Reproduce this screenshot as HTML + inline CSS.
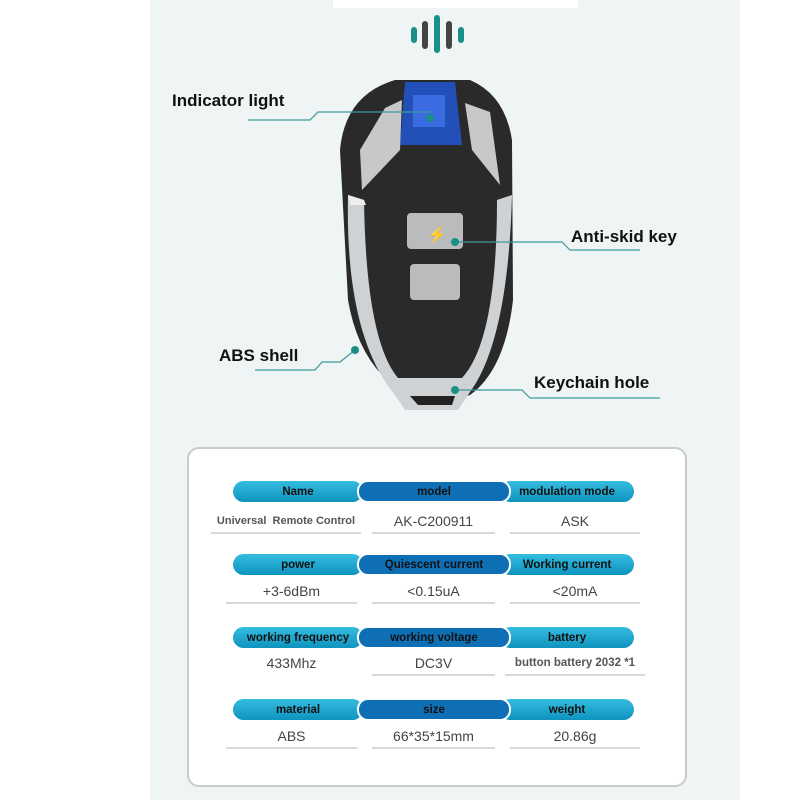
<!DOCTYPE html>
<html><head><style>
body{margin:0;width:800px;height:800px;background:#fff;position:relative;overflow:hidden;font-family:"Liberation Sans",sans-serif}
.panel{position:absolute;left:150px;top:0;width:590px;height:800px;background:#eff4f5}
.topbar{position:absolute;left:333px;top:0;width:245px;height:8px;background:#fff}
.lbl{position:absolute;font-weight:bold;font-size:17px;color:#111}
.box{position:absolute;left:187px;top:447px;width:496px;height:336px;background:#fff;border:2px solid #c9cccd;border-radius:12px}
.pill{position:absolute;height:21px;border-radius:11px;font-weight:bold;font-size:11.5px;color:#111;text-align:center;line-height:22px}
.p1{background:linear-gradient(#35bde0,#0e93be)}
.p2{background:#0f6fb5;border:2px solid #fff;height:19px;line-height:20px}
.val{position:absolute;text-align:center;font-size:14px;color:#444;border-bottom:2px solid #d8d8d8;height:22px;line-height:22px}
</style></head><body>
<div class="panel"></div><div class="topbar"></div>
<svg style="position:absolute;left:0;top:0" width="800" height="440">
<g stroke-linecap="round" stroke-width="6">
<line x1="414" y1="30" x2="414" y2="40" stroke="#1a8f87"/>
<line x1="425" y1="24" x2="425" y2="46" stroke="#444"/>
<line x1="437" y1="18" x2="437" y2="50" stroke="#1a8f87"/>
<line x1="449" y1="24" x2="449" y2="46" stroke="#444"/>
<line x1="461" y1="30" x2="461" y2="40" stroke="#1a8f87"/>
</g>
<path d="M395 80 L470 80 Q505 95 512 140 L513 300 Q505 370 470 395 Q440 406 410 396 Q360 370 348 300 L340 150 Q345 95 395 80Z" fill="#2a2a2a"/>
<path d="M348 195 Q345 335 395 395 L405 410 L458 410 L470 392 Q508 340 512 195 L497 200 Q497 340 462 378 L398 378 Q366 340 364 200Z" fill="#cfd2d4"/>
<path d="M348 195 L364 200 L366 205 L350 205Z" fill="#eee"/>
<path d="M405 82 L455 82 L462 145 L400 145Z" fill="#2350b8"/>
<rect x="413" y="95" width="32" height="32" fill="#3a6be0"/>
<path d="M385 108 L402 100 L400 150 L362 190 L360 150Z" fill="#c8c8c8"/>
<path d="M465 103 L490 112 L500 185 L472 150Z" fill="#c8c8c8"/>
<rect x="407" y="213" width="56" height="36" rx="4" fill="#b9bbbc"/>
<rect x="410" y="264" width="50" height="36" rx="4" fill="#b9bbbc"/>
<path d="M410 396 L418 405 L452 405 L455 396Z" fill="#222"/>
<text x="427" y="240" font-size="16" fill="#222">⚡</text>
<g stroke="#3d9a9a" stroke-width="1.2" fill="none">
<path d="M248 120 L310 120 L318 112 L430 112"/>
<path d="M640 250 L570 250 L562 242 L455 242"/>
<path d="M255 370 L315 370 L322 362 L340 362 L355 350"/>
<path d="M660 398 L530 398 L522 390 L455 390"/>
</g>
<g fill="#1a8f87"><circle cx="430" cy="118" r="4"/><circle cx="455" cy="242" r="4"/><circle cx="355" cy="350" r="4"/><circle cx="455" cy="390" r="4"/></g>
</svg>
<div class="lbl" style="left:172px;top:91px">Indicator light</div>
<div class="lbl" style="left:571px;top:227px">Anti-skid key</div>
<div class="lbl" style="left:219px;top:346px">ABS shell</div>
<div class="lbl" style="left:534px;top:373px">Keychain hole</div>
<div class="box"></div>

<div class="pill p1" style="left:233px;top:481px;width:130px">Name</div>
<div class="pill p1" style="left:500px;top:481px;width:134px">modulation mode</div>
<div class="pill p2" style="left:357px;top:480px;width:150px">model</div>
<div class="val" style="left:211px;top:510px;width:150px;font-size:11px;font-weight:bold;color:#555">Universal&nbsp; Remote Control</div>
<div class="val" style="left:372px;top:510px;width:123px">AK-C200911</div>
<div class="val" style="left:510px;top:510px;width:130px">ASK</div>

<div class="pill p1" style="left:233px;top:554px;width:130px">power</div>
<div class="pill p1" style="left:500px;top:554px;width:134px">Working current</div>
<div class="pill p2" style="left:357px;top:553px;width:150px">Quiescent current</div>
<div class="val" style="left:226px;top:580px;width:131px">+3-6dBm</div>
<div class="val" style="left:372px;top:580px;width:123px">&lt;0.15uA</div>
<div class="val" style="left:510px;top:580px;width:130px">&lt;20mA</div>

<div class="pill p1" style="left:233px;top:627px;width:130px">working frequency</div>
<div class="pill p1" style="left:500px;top:627px;width:134px">battery</div>
<div class="pill p2" style="left:357px;top:626px;width:150px">working voltage</div>
<div class="val" style="left:226px;top:652px;width:131px;border:0">433Mhz</div>
<div class="val" style="left:372px;top:652px;width:123px">DC3V</div>
<div class="val" style="left:505px;top:652px;width:140px;font-size:11.5px;font-weight:bold;color:#555">button battery 2032 *1</div>

<div class="pill p1" style="left:233px;top:699px;width:130px">material</div>
<div class="pill p1" style="left:500px;top:699px;width:134px">weight</div>
<div class="pill p2" style="left:357px;top:698px;width:150px">size</div>
<div class="val" style="left:226px;top:725px;width:131px">ABS</div>
<div class="val" style="left:372px;top:725px;width:123px">66*35*15mm</div>
<div class="val" style="left:510px;top:725px;width:130px">20.86g</div>
</body></html>
